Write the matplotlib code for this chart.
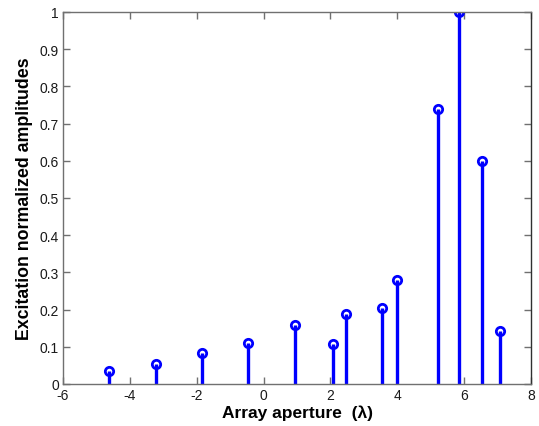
import matplotlib
matplotlib.use("Agg")
import matplotlib.pyplot as plt

positions = [-4.63, -3.23, -1.83, -0.46, 0.94, 2.07, 2.47, 3.55, 3.98, 5.21, 5.86, 6.52, 7.07]
amplitudes = [0.034, 0.053, 0.082, 0.111, 0.158, 0.108, 0.187, 0.203, 0.279, 0.74, 1.0, 0.60, 0.143]
xticks = [-6, -4, -2, 0, 2, 4, 6, 8]
yticks = [0, 0.1, 0.2, 0.3, 0.4, 0.5, 0.6, 0.7, 0.8, 0.9, 1.0]

plt.rcParams['font.family'] = ['Liberation Sans', 'DejaVu Sans']

fig = plt.figure(figsize=(5.39, 4.27), dpi=100)
ax = fig.add_axes([0.1169, 0.0984, 0.8683, 0.8712])

markerline, stemlines, baseline = ax.stem(positions, amplitudes, basefmt=' ')
plt.setp(stemlines, color='#0000ff', linewidth=2.4)
plt.setp(markerline, marker='o', markersize=6, markerfacecolor='none',
         markeredgecolor='#0000ff', markeredgewidth=2)

ax.set_xlim(-6, 8)
ax.set_ylim(0, 1)
ax.set_xticks(xticks)
ax.set_yticks(yticks)
ax.set_xticklabels([str(t) for t in xticks])
ax.set_yticklabels(['0', '0.1', '0.2', '0.3', '0.4', '0.5', '0.6', '0.7', '0.8', '0.9', '1'])
ax.tick_params(direction='in', top=True, right=True, length=5, width=1, labelsize=10,
               color='#707070', labelcolor='#1a1a1a', pad=3)
for s in ax.spines.values():
    s.set_color('#707070')
    s.set_linewidth(1)
ax.spines['right'].set_color('#303030')
ax.set_xlabel('Array aperture  (\u03bb)', fontsize=12.5, fontweight='bold', labelpad=2)
ax.set_ylabel('Excitation normalized amplitudes', fontsize=12.8, fontweight='bold', labelpad=5)

fig.savefig('out.png', dpi=100)
